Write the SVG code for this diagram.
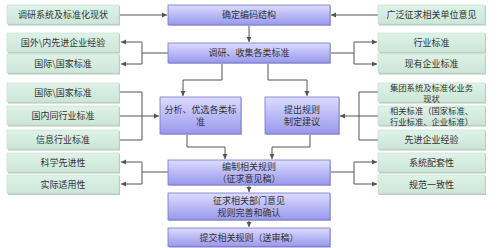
<svg xmlns="http://www.w3.org/2000/svg" width="499" height="248" viewBox="0 0 499 248">
<defs>
<linearGradient id="gb" x1="0" y1="0" x2="0" y2="1">
<stop offset="0" stop-color="#dcdcff"/>
<stop offset="1" stop-color="#9898ec"/>
</linearGradient>
<linearGradient id="gg" x1="0" y1="0" x2="0" y2="1">
<stop offset="0" stop-color="#dff2e8"/>
<stop offset="1" stop-color="#cbe6d8"/>
</linearGradient>
<marker id="ar" markerWidth="6" markerHeight="6" refX="5" refY="3" orient="auto" markerUnits="userSpaceOnUse">
<path d="M0,0.5 L5,3 L0,5.5 Z" fill="#555"/>
</marker>
</defs>
<style>
.g{fill:url(#gg);stroke:#c4dccf;stroke-width:0.6}
.gs{fill:#b8c8c0}
.b{fill:url(#gb);stroke:#7474c8;stroke-width:0.8}
.bs{fill:#c4c4d4}
text{font-family:"Noto Sans CJK SC","Noto Sans CJK TC",sans-serif;font-size:9px;fill:#333;text-anchor:middle}
text.s{font-size:8.3px}
.c path{fill:none;stroke:#555;stroke-width:1}
.c .a{marker-end:url(#ar)}
</style>
<rect width="499" height="248" fill="#fff"/>
<g class="c" id="connectors">
<path class="a" d="M120,15 H167"/>
<path class="a" d="M378,15 H331"/>
<path class="a" d="M249,25 V42"/>
<path d="M168,53 H142 M142,42 V64"/>
<path class="a" d="M142,42 H121"/>
<path class="a" d="M142,64 H121"/>
<path d="M330,53 H354 M354,42 V64"/>
<path class="a" d="M354,42 H377"/>
<path class="a" d="M354,64 H377"/>
<path class="a" d="M222,63 V80 H183 V96"/>
<path class="a" d="M268,63 V80 H307 V96"/>
<path d="M120,92 H142 V140 H120"/>
<path class="a" d="M120,116 H159"/>
<path d="M378,92 H359 V140 H378"/>
<path class="a" d="M378,116 H340"/>
<path class="a" d="M187,134 V147 H225 V159"/>
<path class="a" d="M310,134 V147 H272 V159"/>
<path d="M168,172 H142 M142,162 V184"/>
<path class="a" d="M142,162 H121"/>
<path class="a" d="M142,184 H121"/>
<path d="M330,172 H354 M354,162 V184"/>
<path class="a" d="M354,162 H377"/>
<path class="a" d="M354,184 H377"/>
<path class="a" d="M249,185 V192"/>
<path class="a" d="M249,220 V227"/>
</g>
<g id="l1"><rect class="gs" x="8" y="6" width="112" height="19.5"/><rect class="g" x="7" y="5" width="112" height="19"/><text x="63" y="18">调研系统及标准化现状</text></g>
<g id="l2"><rect class="gs" x="8" y="34" width="112" height="19.5"/><rect class="g" x="7" y="33" width="112" height="19"/><text x="63" y="46">国外\内先进企业经验</text></g>
<g id="l3"><rect class="gs" x="8" y="55" width="112" height="19.5"/><rect class="g" x="7" y="54" width="112" height="19"/><text x="63" y="67">国际\国家标准</text></g>
<g id="l4"><rect class="gs" x="8" y="84" width="112" height="19.5"/><rect class="g" x="7" y="83" width="112" height="19"/><text x="63" y="96">国际\国家标准</text></g>
<g id="l5"><rect class="gs" x="8" y="107" width="112" height="19.5"/><rect class="g" x="7" y="106" width="112" height="19"/><text x="63" y="119">国内同行业标准</text></g>
<g id="l6"><rect class="gs" x="8" y="131" width="112" height="19.5"/><rect class="g" x="7" y="130" width="112" height="19"/><text x="63" y="143">信息行业标准</text></g>
<g id="l7"><rect class="gs" x="8" y="154" width="112" height="19.5"/><rect class="g" x="7" y="153" width="112" height="19"/><text x="63" y="166">科学先进性</text></g>
<g id="l8"><rect class="gs" x="8" y="176" width="112" height="19"/><rect class="g" x="7" y="175" width="112" height="18.5"/><text x="63" y="188">实际适用性</text></g>
<g id="r1"><rect class="gs" x="379" y="6" width="107" height="19.5"/><rect class="g" x="378" y="5" width="107" height="19"/><text x="431.5" y="18">广泛征求相关单位意见</text></g>
<g id="r2"><rect class="gs" x="379" y="34" width="107" height="19.5"/><rect class="g" x="378" y="33" width="107" height="19"/><text x="431.5" y="46">行业标准</text></g>
<g id="r3"><rect class="gs" x="379" y="55" width="107" height="19.5"/><rect class="g" x="378" y="54" width="107" height="19"/><text x="431.5" y="67">现有企业标准</text></g>
<g id="r4"><rect class="gs" x="379" y="84" width="107" height="19.5"/><rect class="g" x="378" y="83" width="107" height="19"/><text class="s" x="431.5" y="90.5">集团系统及标准化业务</text><text class="s" x="431.5" y="102">现状</text></g>
<g id="r5"><rect class="gs" x="379" y="107" width="107" height="19.5"/><rect class="g" x="378" y="106" width="107" height="19"/><text class="s" x="431.5" y="113.5">相关标准（国家标准、</text><text class="s" x="431.5" y="125">行业标准、企业标准）</text></g>
<g id="r6"><rect class="gs" x="379" y="131" width="107" height="19.5"/><rect class="g" x="378" y="130" width="107" height="19"/><text x="431.5" y="143">先进企业经验</text></g>
<g id="r7"><rect class="gs" x="379" y="154" width="107" height="19.5"/><rect class="g" x="378" y="153" width="107" height="19"/><text x="431.5" y="166">系统配套性</text></g>
<g id="r8"><rect class="gs" x="379" y="176" width="107" height="19"/><rect class="g" x="378" y="175" width="107" height="18.5"/><text x="431.5" y="188">规范一致性</text></g>
<g id="b1"><rect class="bs" x="169" y="6" width="162" height="20"/><rect class="b" x="168" y="5" width="162" height="20"/><text x="249" y="18">确定编码结构</text></g>
<g id="b2"><rect class="bs" x="169" y="44" width="162" height="20"/><rect class="b" x="168" y="43" width="162" height="20"/><text x="249" y="56">调研、收集各类标准</text></g>
<g id="b3"><rect class="bs" x="161" y="98" width="81" height="37"/><rect class="b" x="160" y="97" width="81" height="37"/><text x="200.5" y="113">分析、优选各类标</text><text x="200.5" y="125">准</text></g>
<g id="b4"><rect class="bs" x="266" y="98" width="74" height="37"/><rect class="b" x="265" y="97" width="74" height="37"/><text x="302" y="113">提出规则</text><text x="302" y="125">制定建议</text></g>
<g id="b5"><rect class="bs" x="169" y="161" width="162" height="25"/><rect class="b" x="168" y="160" width="162" height="25"/><text x="249" y="170">编制相关规则</text><text x="249" y="182">（征求意见稿）</text></g>
<g id="b6"><rect class="bs" x="169" y="194" width="162" height="27"/><rect class="b" x="168" y="193" width="162" height="27"/><text x="249" y="204">征求相关部门意见</text><text x="249" y="216">规则完善和确认</text></g>
<g id="b7"><rect class="bs" x="169" y="229" width="162" height="19"/><rect class="b" x="168" y="228" width="162" height="18.5"/><text x="249" y="241">提交相关规则（送审稿）</text></g>
</svg>
